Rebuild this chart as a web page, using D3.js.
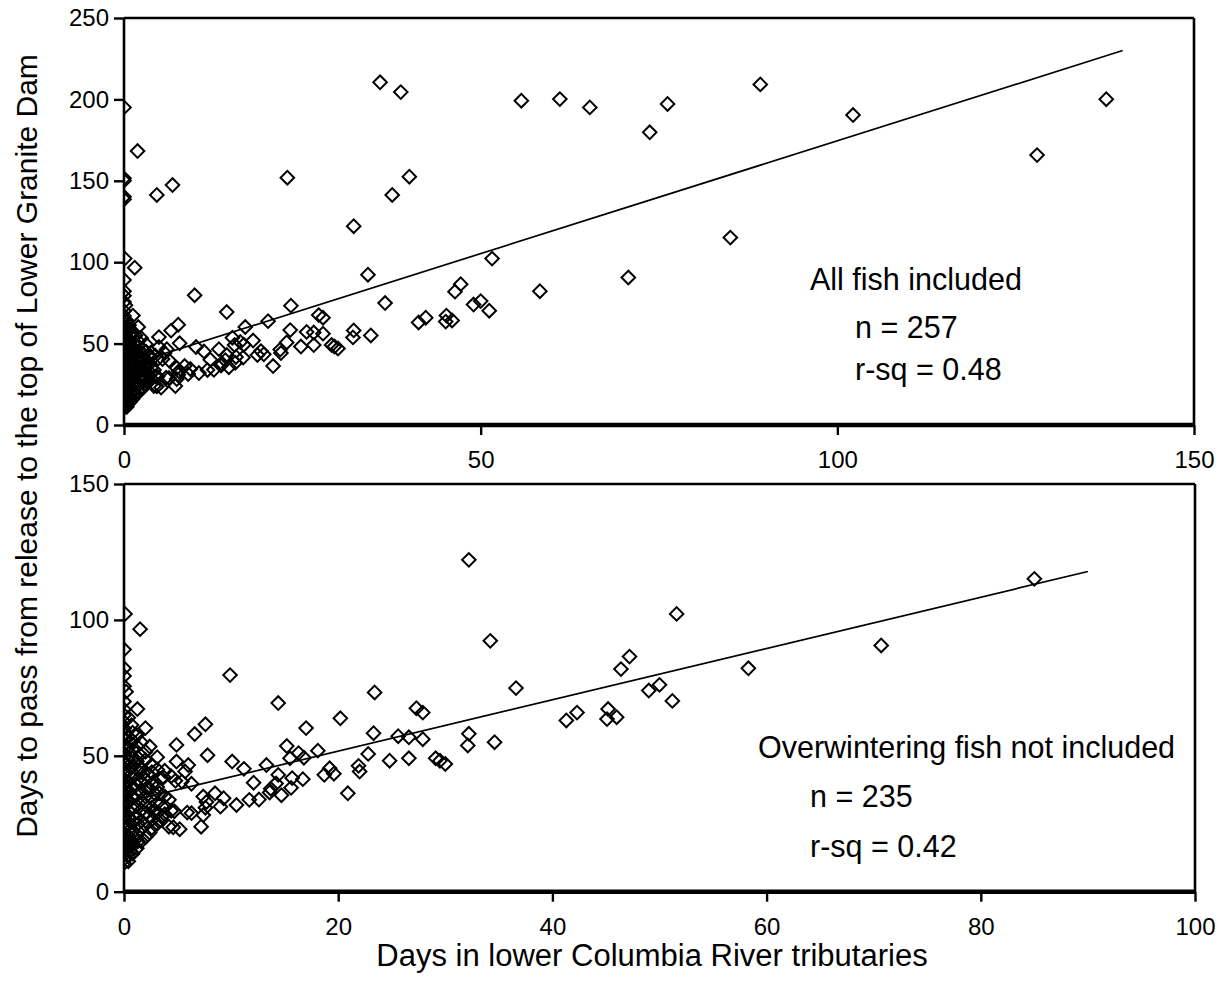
<!DOCTYPE html>
<html>
<head>
<meta charset="utf-8">
<script src="https://cdn.jsdelivr.net/npm/d3@7"></script>
<style>
  body { margin: 0; background: #fff; }
  svg { display: block; }
  text { font-family: "Liberation Sans", Arial, Helvetica, sans-serif; fill: #000; }
</style>
</head>
<body>
<svg id="chart" width="1222" height="983"></svg>
<script>
// Fish that moved on without overwintering: [days in tributaries, days to Lower Granite Dam]
const nonOverwinterFish = [
  [0.1,102.2],[1.5,96.6],[0,89.1],[0,82.2],[0,79.4],[0,75.6],[0.2,73.6],[9.9,79.7],[1.25,67.2],[14.4,69.4],
  [23.4,73.3],[20.2,63.8],[17.0,60.2],[23.3,58.3],[7.6,61.6],[6.6,58.0],[2.0,60.2],[0.7,61.3],[2.4,53.4],[4.9,54.0],
  [0.8,52.2],[15.2,53.6],[16.3,51.0],[18.1,51.9],[7.8,50.2],[10.1,47.9],[13.3,46.6],[11.2,45.2],[15.5,49.1],[19.2,45.4],
  [22.8,50.7],[21.9,46.3],[22.0,44.2],[24.8,48.2],[25.6,57.2],[2.6,46.6],[1.8,43.6],[4.9,47.9],[6.0,46.6],[5.7,44.2],
  [3.5,41.7],[4.4,42.5],[4.8,40.8],[5.4,40.5],[12.1,40.1],[14.4,43.0],[14.2,39.8],[13.6,36.5],[13.7,37.9],[15.7,41.8],
  [18.7,43.0],[19.6,43.4],[20.9,36.2],[2.1,38.1],[2.9,36.0],[4.2,33.8],[7.4,35.0],[8.5,36.2],[9.3,34.4],[9.0,31.3],
  [10.5,31.9],[11.7,33.8],[7.7,33.0],[7.4,28.2],[5.9,29.1],[4.4,29.8],[4.2,23.9],[5.2,23.0],[7.2,23.9],[2.4,21.7],
  [2.1,29.0],[2.4,28.0],[3.4,26.4],[1.3,25.0],[1.5,23.0],[1.1,19.5],[1.3,18.5],[0.7,16.9],[0.6,15.0],[0.4,11.2],
  [1.5,50.3],[2.2,43.2],[3.7,42.1],[1.1,39.5],[2.3,38.2],[3.3,36.2],[6.3,39.7],[6.3,28.9],[4.6,23.7],[3.5,27.6],
  [2.8,29.2],[4.7,29.6],[16.7,41.4],[16.8,49.3],[15.6,38.2],[14.7,35.5],[12.6,33.9],[7.6,30.9],
  [32.2,122.1],[34.2,92.3],
  [51.6,102.2],[36.6,74.9],[47.2,86.5],[46.4,81.9],[58.3,82.2],[50.0,76.1],[49.0,74.0],[51.2,70.2],[42.3,65.9],[41.3,63.0],
  [45.2,67.2],[45.1,63.5],[46.0,64.2],[27.3,67.5],[27.9,65.9],[26.6,56.8],[27.9,56.1],[32.2,58.1],[32.1,53.8],[34.6,55.0],
  [26.6,49.1],[29.1,49.1],[29.5,48.2],[30.0,47.0],[85.0,115.1],[70.7,90.6],
  // fish that left the tributaries within a few days
  [0,10.5],[0,12],[0,13.5],[0,15],[0,16],[0,17.5],[0,19],[0,20],[0,21.5],[0,23],
  [0,24],[0,25.5],[0,27],[0,28],[0,29.5],[0,31],[0,32],[0,33.5],[0,35],[0,36],
  [0,37.5],[0,39],[0,40],[0,41.5],[0,43],[0,44],[0,45.5],[0,47],[0,48],[0,49.5],
  [0,51],[0,52.5],[0,54],[0,56],[0,58],[0,60],[0,62.5],[0,65],[0,67],[0,70],
  [0.2,18],[0.2,38],
  [0.4,13],[0.4,16.5],[0.4,20.5],[0.4,24.5],[0.4,27.5],[0.4,30],[0.4,33],[0.4,36.5],[0.4,40.5],[0.4,44.5],
  [0.4,48.5],[0.4,53],[0.4,57],[0.4,64],
  [0.8,14],[0.8,18],[0.8,22],[0.8,26],[0.8,30.5],[0.8,34.5],[0.8,38],[0.8,42],[0.8,46],[0.8,49],
  [0.8,55.5],[0.8,58.5],
  [1.2,16],[1.2,21],[1.2,27.5],[1.2,31.5],[1.2,35.5],[1.2,41],[1.2,45],[1.2,48],[1.2,53.5],[1.2,57.5],
  [1.6,18.5],[1.6,26],[1.6,30],[1.6,33.5],[1.6,37],[1.6,40.5],[1.6,45.5],[1.6,55],
  [2.0,20],[2.0,24.5],[2.0,32],[2.0,35],[2.0,41],[2.0,48.5],[2.0,51.5],
  [2.6,23.5],[2.6,26.5],[2.6,31],[2.6,34],[2.6,39.5],[2.6,44],
  [3.1,25],[3.1,29],[3.1,32.5],[3.1,38.5],[3.1,45],[3.1,49.5],
  [3.8,28.5],[3.8,31.5],[3.8,35],[3.8,44.5]
];

// Fish that overwintered before passing the dam
const overwinterFish = [
  [0,195.1],[1.9,168.3],[0,150.1],[0,138.6],[4.6,141.3],[6.8,147.4],[22.9,151.9],[35.9,210.5],
  [38.8,204.5],[37.6,141.3],[40.0,152.5],[55.7,199.2],[61.1,200.2],[65.3,195.1],[73.7,179.8],
  [76.2,197.2],[89.2,209.2],[102.2,190.4],[128.0,165.8],[137.7,200.1],[0,151.5],[0,140.2]
];

// Least-squares fit lines: [x, fitted y] at each end
const fitAllFish = [[0, 36.0], [140, 230.0]];
const fitNonOverwinter = [[0.5, 33.3], [90, 117.8]];

// Axis ticks
const topXTicks = [0, 50, 100, 150];
const topYTicks = [0, 50, 100, 150, 200, 250];
const bottomXTicks = [0, 20, 40, 60, 80, 100];
const bottomYTicks = [0, 50, 100, 150];

// Panel notes
const topNotes = ["All fish included", "n = 257", "r-sq = 0.48"];
const bottomNotes = ["Overwintering fish not included", "n = 235", "r-sq = 0.42"];

const svg = d3.select("#chart");

function drawPanel(opt) {
  const { id, box, xMax, yMax, xTicks, yTicks, points, fit, notes, notePos } = opt;
  const x = d3.scaleLinear().domain([0, xMax]).range([box.left, box.right]);
  const y = d3.scaleLinear().domain([0, yMax]).range([box.bottom, box.top]);

  const g = svg.append("g").attr("class", "panel-" + id);

  svg.append("clipPath").attr("id", "clip-" + id)
    .append("rect")
    .attr("x", box.left).attr("y", box.top - 10)
    .attr("width", box.right - box.left + 10)
    .attr("height", box.bottom - box.top + 10);

  // frame: top and right borders, left axis line, heavy baseline
  g.append("line").attr("x1", box.left).attr("x2", box.right)
    .attr("y1", box.top).attr("y2", box.top)
    .attr("stroke", "#000").attr("stroke-width", 2.6);
  g.append("line").attr("x1", box.right).attr("x2", box.right)
    .attr("y1", box.top).attr("y2", box.bottom)
    .attr("stroke", "#000").attr("stroke-width", 2.6);
  g.append("line").attr("x1", box.left).attr("x2", box.left)
    .attr("y1", box.top).attr("y2", box.bottom)
    .attr("stroke", "#000").attr("stroke-width", 2.6);

  // y axis
  const yAxis = g.append("g")
    .attr("transform", `translate(${box.left},0)`)
    .call(d3.axisLeft(y).tickValues(yTicks).tickSize(10).tickPadding(5).tickFormat(d3.format("d")));
  yAxis.select(".domain").remove();
  yAxis.selectAll(".tick line").attr("stroke", "#000").attr("stroke-width", 2.4);
  yAxis.selectAll(".tick text").attr("font-size", 24)
    .attr("font-family", '"Liberation Sans", Arial, sans-serif').attr("fill", "#000");

  // x axis
  const xAxis = g.append("g")
    .attr("transform", `translate(0,${box.bottom})`)
    .call(d3.axisBottom(x).tickValues(xTicks).tickSize(10).tickPadding(16).tickFormat(d3.format("d")));
  xAxis.select(".domain").remove();
  xAxis.selectAll(".tick line").attr("stroke", "#000").attr("stroke-width", 2.4);
  xAxis.selectAll(".tick text").attr("font-size", 24)
    .attr("font-family", '"Liberation Sans", Arial, sans-serif').attr("fill", "#000");

  g.append("line").attr("x1", box.left - 1).attr("x2", box.right + 1)
    .attr("y1", box.bottom).attr("y2", box.bottom)
    .attr("stroke", "#000").attr("stroke-width", 4.6);

  // observations
  const diamond = d3.symbol().type(d3.symbolSquare).size(92);
  g.append("g").attr("clip-path", `url(#clip-${id})`)
    .selectAll("path")
    .data(points)
    .join("path")
    .attr("d", diamond)
    .attr("transform", d => `translate(${x(d[0])},${y(d[1])}) rotate(45)`)
    .attr("fill", "none")
    .attr("stroke", "#000")
    .attr("stroke-width", 2);

  // regression line
  g.append("path")
    .datum(fit)
    .attr("d", d3.line().x(d => x(d[0])).y(d => y(d[1])))
    .attr("fill", "none")
    .attr("stroke", "#000")
    .attr("stroke-width", 1.7);

  // notes
  const nt = g.append("g");
  notes.forEach((t, i) => {
    nt.append("text")
      .attr("x", notePos[i][0]).attr("y", notePos[i][1])
      .attr("font-size", 30.5)
      .text(t);
  });
}

drawPanel({
  id: "all",
  box: { left: 124, right: 1194, top: 18, bottom: 425 },
  xMax: 150, yMax: 250,
  xTicks: topXTicks, yTicks: topYTicks,
  points: nonOverwinterFish.concat(overwinterFish),
  fit: fitAllFish,
  notes: topNotes,
  notePos: [[810, 290], [855, 338], [855, 380]]
});

drawPanel({
  id: "noWinter",
  box: { left: 124, right: 1195, top: 484, bottom: 891.7 },
  xMax: 100, yMax: 150,
  xTicks: bottomXTicks, yTicks: bottomYTicks,
  points: nonOverwinterFish,
  fit: fitNonOverwinter,
  notes: bottomNotes,
  notePos: [[758, 758], [810, 807], [810, 857]]
});

// shared axis titles
svg.append("text")
  .attr("transform", "translate(37,446) rotate(-90)")
  .attr("text-anchor", "middle")
  .attr("font-size", 30)
  .text("Days to pass from release to the top of Lower Granite Dam");

svg.append("text")
  .attr("x", 652).attr("y", 966)
  .attr("text-anchor", "middle")
  .attr("font-size", 31)
  .text("Days in lower Columbia River tributaries");
</script>
</body>
</html>
